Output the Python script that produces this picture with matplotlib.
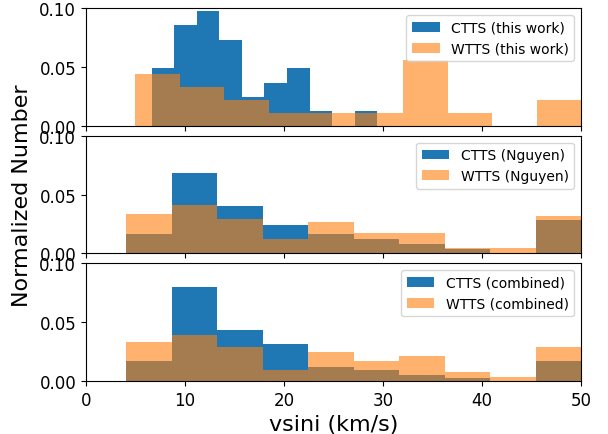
import numpy as np
import matplotlib
matplotlib.use('Agg')
import matplotlib.pyplot as plt

# bin edges (km/s)
edges_this_ctts = [6.63, 8.91, 11.19, 13.47, 15.75, 18.03, 20.31, 22.59, 24.87, 27.15, 29.43]
edges_this_wtts = [4.95, 9.46, 13.97, 18.48, 22.99, 27.50, 32.01, 36.52, 41.03, 45.54, 50.05]
edges_comb = [4.04, 8.64, 13.24, 17.84, 22.44, 27.04, 31.64, 36.24, 40.84, 45.44, 50.04]

# normalized heights
this_ctts = [0.0487, 0.0853, 0.0975, 0.0731, 0.0244, 0.0366, 0.0487, 0.0122, 0.0, 0.0122]
this_wtts = [0.0444, 0.0333, 0.0222, 0.0111, 0.0111, 0.0111, 0.0556, 0.0111, 0.0, 0.0222]
ngu_ctts = [0.0161, 0.0684, 0.0403, 0.0242, 0.0161, 0.0121, 0.0081, 0.0040, 0.0, 0.0282]
ngu_wtts = [0.0338, 0.0411, 0.0290, 0.0121, 0.0266, 0.0169, 0.0169, 0.0048, 0.0048, 0.0314]
comb_ctts = [0.0169, 0.0797, 0.0435, 0.0314, 0.0121, 0.0097, 0.0048, 0.0024, 0.0, 0.0169]
comb_wtts = [0.0328, 0.0389, 0.0290, 0.0089, 0.0248, 0.0170, 0.0210, 0.0075, 0.0035, 0.0290]

panels = [
    (edges_this_ctts, this_ctts, edges_this_wtts, this_wtts, 'this work'),
    (edges_comb, ngu_ctts, edges_comb, ngu_wtts, 'Nguyen'),
    (edges_comb, comb_ctts, edges_comb, comb_wtts, 'combined'),
]

fig, axes = plt.subplots(3, 1, sharex=True, figsize=(6.08, 4.35), dpi=100)
fig.subplots_adjust(left=0.1414, right=0.9556, top=0.979, bottom=0.122, hspace=0.085)

for ax, (ec, hc, ew, hw, name) in zip(axes, panels):
    ax.hist(ec[:-1], bins=ec, weights=hc, color='C0', label='CTTS (%s)' % name)
    ax.hist(ew[:-1], bins=ew, weights=hw, color='C1', alpha=0.6, label='WTTS (%s)' % name)
    ax.set_ylim(0, 0.1)
    ax.set_yticks([0.0, 0.05, 0.10])
    ax.set_yticklabels(['0.00', '0.05', '0.10'])
    ax.tick_params(labelsize=12)
    ax.legend(loc='upper right', fontsize=10)

axes[-1].set_xlim(0, 50)
axes[-1].set_xlabel('vsini (km/s)', fontsize=16)
fig.text(0.037, 0.55, 'Normalized Number', rotation=90, va='center', ha='center', fontsize=16)

plt.savefig('out.png')
